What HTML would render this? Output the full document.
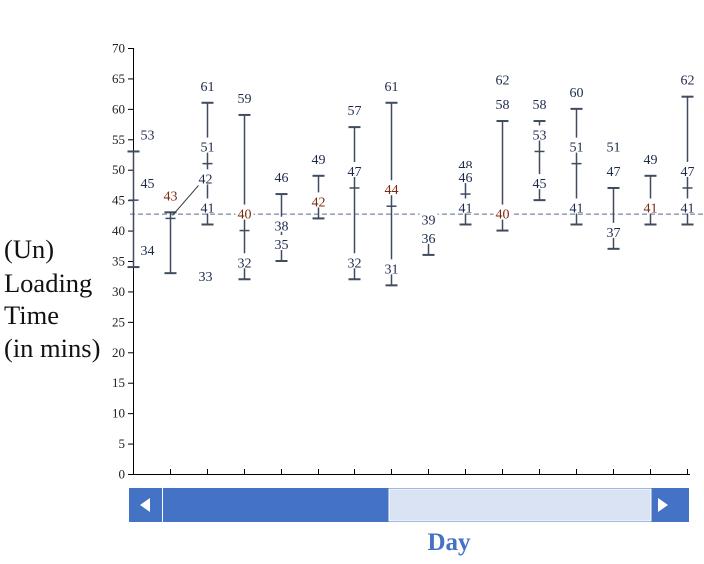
<!DOCTYPE html>
<html><head><meta charset="utf-8"><style>
html,body{margin:0;padding:0;background:#fff;width:704px;height:564px;overflow:hidden}
svg{display:block;font-family:"Liberation Serif",serif}
</style></head><body>
<svg id="chart" width="704" height="564" viewBox="0 0 704 564">
<g font-size="26.5" fill="#111">
<text x="4" y="258">(Un)</text><text x="4" y="292">Loading</text><text x="4" y="324">Time</text><text x="4" y="357">(in mins)</text>
</g>
<g id="axes"></g><g id="marks"></g><g id="labels"></g>
<g>
<rect x="129" y="488" width="560" height="34" fill="#4472c4"/>
<rect x="389" y="489" width="262" height="32" fill="#dae3f3" stroke="#fff" stroke-width="1"/>
<line x1="162.5" y1="488" x2="162.5" y2="522" stroke="#fff"/>
<polygon points="140,505 150,498 150,512" fill="#fff"/>
<polygon points="668,505 658,498 658,512" fill="#fff"/>
</g>
<text x="449" y="550" text-anchor="middle" font-size="25" font-weight="bold" fill="#4472c4">Day</text>
</svg>
<script>
const days = ["1","2","3","4","5","6","7","8","9","10","11","12","13","14","15","16"];
const highs = [53,43,61,59,46,49,57,61,39,48,58,58,60,47,49,62];
const means = [45,42,51,40,38,42,47,44,39,46,58,53,51,47,41,47];
const lows  = [34,33,41,32,35,42,32,31,36,41,40,45,41,37,41,41];
const topLabels = [53,43,61,59,46,49,57,61,39,48,62,58,60,51,49,62];
const yTicks = [0,5,10,15,20,25,30,35,40,45,50,55,60,65,70];
const refValue = 42.7;

const NS="http://www.w3.org/2000/svg";
const y0=474, yTop=48, yMax=70;
const yS=v=>y0-(v/yMax)*(y0-yTop);
const xS=i=>133+i*36.9;
function mk(tag,attrs,parent,txt){const e=document.createElementNS(NS,tag);for(const k in attrs)e.setAttribute(k,attrs[k]);if(txt!==undefined)e.textContent=txt;parent.appendChild(e);return e;}
const axes=document.getElementById('axes'), marks=document.getElementById('marks'), labels=document.getElementById('labels');
let a=mk('line',{x1:133.5,y1:yTop,x2:133.5,y2:y0,stroke:'#000'},axes);


a=mk('line',{x1:133,y1:y0+0.5,x2:690,y2:y0+0.5,stroke:'#000'},axes);


yTicks.forEach(v=>{
  mk('line',{x1:128,y1:yS(v)+0.5,x2:133,y2:yS(v)+0.5,stroke:'#000'},axes);
  const t=mk('text',{x:125,y:yS(v)+4.5,'text-anchor':'end','font-size':13,fill:'#222'},axes,String(v));
  
  
});
days.forEach((d,i)=>{const x=Math.round(xS(i))+0.5;mk('line',{x1:x,y1:y0,x2:x,y2:y0-5,stroke:'#000'},axes);});
const ref=mk('line',{x1:130,y1:yS(refValue),x2:704,y2:yS(refValue),stroke:'#5a6a90','stroke-dasharray':'5,3','stroke-width':1},marks);


const col='#414b60', dark='#1d2a4a', red='#7a2a10';
const meanRed=[3,5,7,14], lowRed=[10], topRed=[1];
days.forEach((d,i)=>{
  const x=Math.round(xS(i))+0.5;
  const g=mk('g',{},marks);
  
  
  mk('line',{x1:x,y1:yS(highs[i]),x2:x,y2:yS(lows[i]),stroke:col,'stroke-width':1.5},g);
  mk('line',{x1:x-6,y1:yS(highs[i]),x2:x+6,y2:yS(highs[i]),stroke:col,'stroke-width':2},g);
  mk('line',{x1:x-6,y1:yS(lows[i]),x2:x+6,y2:yS(lows[i]),stroke:col,'stroke-width':2},g);
  mk('line',{x1:x-5,y1:yS(means[i]),x2:x+5,y2:yS(means[i]),stroke:col,'stroke-width':1.5},g);
  const dx=i===0?14:0;
  const vals=[[topLabels[i],topRed.includes(i)?red:dark,x+dx,0],[means[i],meanRed.includes(i)?red:dark,x+dx,0],[lows[i],lowRed.includes(i)?red:dark,x+dx,0]];
  if(i===1){ vals[1][2]=x+35; vals[1][3]=-23; vals[2][2]=x+35; vals[2][3]=20;
    mk('line',{x1:x+28,y1:yS(means[i])-33,x2:x+2,y2:yS(means[i])-3,stroke:'#333','stroke-width':1},labels); }
  vals.forEach(([v,c,lx,oy],k)=>{
    if(k===0 && v===means[i] && i!==1) return;
    if(k===2 && v===means[i]) return;
    const ly=yS(v)-17+oy;
    if(dx===0) mk('rect',{x:lx-9,y:ly-9,width:18,height:15,fill:'#fff'},labels);
    const t=mk('text',{x:lx,y:ly+5,'text-anchor':'middle','font-size':14,fill:c},labels,String(v));
    
    
  });
});
</script>
</body></html>
